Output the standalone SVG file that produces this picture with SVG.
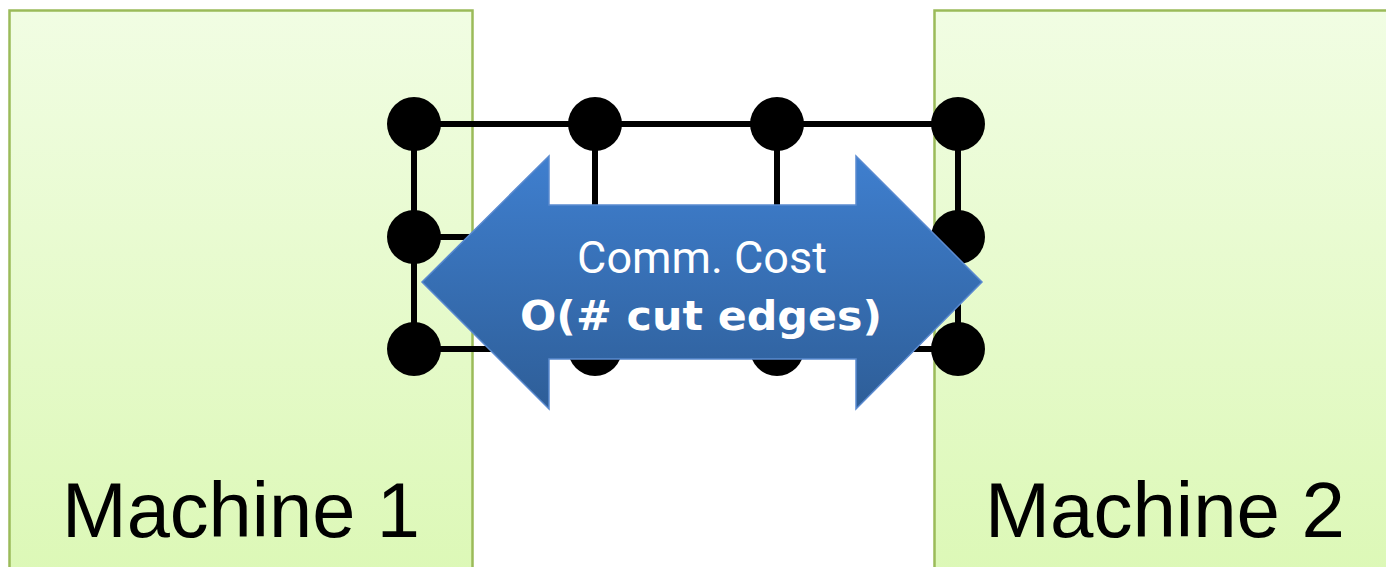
<svg xmlns="http://www.w3.org/2000/svg" width="1386" height="567" viewBox="0 0 1386 567">
<defs>
<linearGradient id="gBox" x1="0" y1="0" x2="0" y2="1">
<stop offset="0" stop-color="#f1fde3"/>
<stop offset="1" stop-color="#dcf8b6"/>
</linearGradient>
<linearGradient id="gArrow" x1="0" y1="0" x2="0" y2="1">
<stop offset="0" stop-color="#3f7fcf"/>
<stop offset="1" stop-color="#2e5e98"/>
</linearGradient>
<style>
.box{fill:url(#gBox);stroke:#9bbb59;stroke-width:2.5}
.lbl{font-family:"Liberation Sans",Arial,sans-serif;font-size:77px;fill:#000}
.edge{stroke:#000;stroke-width:6;fill:none}
.node{fill:#000}
.arr{fill:url(#gArrow);stroke:#5a8ad0;stroke-width:1.5}
.t1{font-family:Roboto,"Liberation Sans",sans-serif;font-size:45px;fill:#fff}
.t2{font-family:"DejaVu Sans","Liberation Sans",sans-serif;font-weight:bold;font-size:41px;fill:#fff}
</style>
</defs>
<rect width="1386" height="567" fill="#fff"/>
<g id="machine1">
<rect class="box" x="9.5" y="10.5" width="463" height="570"/>
<text class="lbl" x="241" y="537" text-anchor="middle" textLength="358" lengthAdjust="spacingAndGlyphs">Machine 1</text>
</g>
<g id="machine2">
<rect class="box" x="934.5" y="10.5" width="470" height="570"/>
<text class="lbl" x="1165" y="537" text-anchor="middle" textLength="360" lengthAdjust="spacingAndGlyphs">Machine 2</text>
</g>
<g id="connectors">
<line class="edge" x1="414" y1="124" x2="958" y2="124"/>
<line class="edge" x1="414" y1="237" x2="958" y2="237"/>
<line class="edge" x1="414" y1="349" x2="958" y2="349"/>
<line class="edge" x1="414" y1="124" x2="414" y2="349"/>
<line class="edge" x1="595" y1="124" x2="595" y2="349"/>
<line class="edge" x1="777" y1="124" x2="777" y2="349"/>
<line class="edge" x1="958" y1="124" x2="958" y2="349"/>
</g>
<g id="nodes">
<circle id="n11" class="node" cx="414" cy="124" r="27"/>
<circle id="n12" class="node" cx="595" cy="124" r="27"/>
<circle id="n13" class="node" cx="777" cy="124" r="27"/>
<circle id="n14" class="node" cx="958" cy="124" r="27"/>
<circle id="n21" class="node" cx="414" cy="237" r="27"/>
<circle id="n22" class="node" cx="595" cy="237" r="27"/>
<circle id="n23" class="node" cx="777" cy="237" r="27"/>
<circle id="n24" class="node" cx="958" cy="237" r="27"/>
<circle id="n31" class="node" cx="414" cy="349" r="27"/>
<circle id="n32" class="node" cx="595" cy="349" r="27"/>
<circle id="n33" class="node" cx="777" cy="349" r="27"/>
<circle id="n34" class="node" cx="958" cy="349" r="27"/>
</g>
<g id="comm-arrow">
<path class="arr" d="M422 282 L549 156 L549 205 L856 205 L856 156 L982 282 L856 409 L856 359 L549 359 L549 409 Z"/>
<text class="t1" x="702" y="273" text-anchor="middle">Comm. Cost</text>
<text class="t2" x="701" y="330" text-anchor="middle" textLength="362" lengthAdjust="spacingAndGlyphs">O(# cut edges)</text>
</g>
</svg>
